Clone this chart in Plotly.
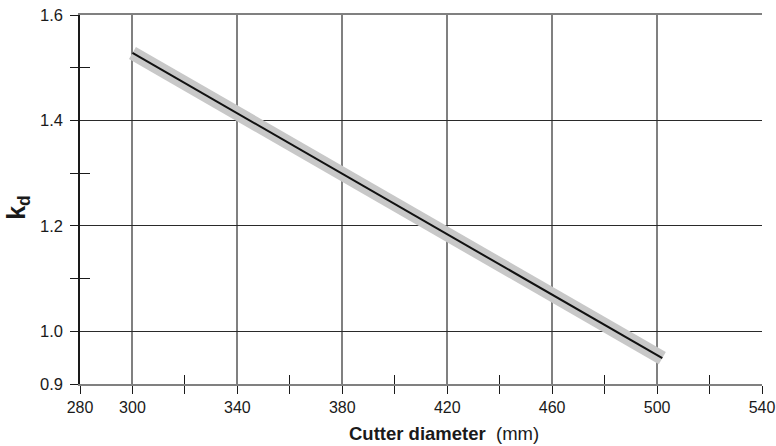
import plotly.graph_objects as go

# Cutter diameter (mm) vs. diameter factor k_d
diameter = [300, 502]
kd = [1.528, 0.949]

x_major = [280, 300, 340, 380, 420, 460, 500, 540]
x_minor = [320, 360, 400, 440, 480, 520]
y_major = [0.9, 1.0, 1.2, 1.4, 1.6]
y_major_text = ["0.9", "1.0", "1.2", "1.4", "1.6"]
y_minor = [1.1, 1.3, 1.5]

FONT = "Liberation Sans, Arial, sans-serif"
DARK = "#1a1a1a"
GREY = "#808080"

fig = go.Figure()
# broad grey band behind the line
fig.add_trace(go.Scatter(x=diameter, y=kd, mode="lines",
                         line=dict(color="#c8c8c8", width=14),
                         hoverinfo="skip", showlegend=False))
fig.add_trace(go.Scatter(x=diameter, y=kd, mode="lines",
                         line=dict(color="#111111", width=2),
                         showlegend=False))
# holder trace so the overlay axes (inner tick halves, top border) get drawn
fig.add_trace(go.Scatter(x=[None], y=[None], xaxis="x2", yaxis="y2",
                         mode="lines", hoverinfo="skip", showlegend=False))

common_x = dict(range=[280, 540], fixedrange=True, zeroline=False, automargin=False)
common_y = dict(range=[0.9, 1.6], fixedrange=True, zeroline=False, automargin=False)

fig.update_layout(
    width=776, height=446,
    margin=dict(l=80, r=14, t=15, b=62),
    plot_bgcolor="white", paper_bgcolor="white",
    font=dict(family=FONT, size=16, color=DARK),
    xaxis=dict(**common_x, tickmode="array", tickvals=x_major,
               ticktext=[str(v) for v in x_major],
               ticks="outside", ticklen=8, tickwidth=1, tickcolor=DARK,
               showgrid=True, gridcolor=GREY, gridwidth=1.5,
               minor=dict(tickmode="array", tickvals=x_minor, ticks="outside",
                          ticklen=8, tickwidth=1, tickcolor=DARK, showgrid=False),
               showline=True, linecolor=GREY, linewidth=1.5,
               tickfont=dict(size=16, color=DARK)),
    xaxis2=dict(**common_x, overlaying="x", side="bottom", anchor="y2",
                tickmode="array", tickvals=x_minor, showticklabels=False,
                ticks="inside", ticklen=9, tickwidth=1, tickcolor=DARK,
                showgrid=False, showline=True, linecolor=GREY, linewidth=1.5,
                mirror=True),
    yaxis=dict(**common_y, tickmode="array", tickvals=y_major,
               ticktext=y_major_text,
               ticks="outside", ticklen=8, tickwidth=1, tickcolor=DARK,
               ticklabelstandoff=4,
               showgrid=True, gridcolor="#2a2a2a", gridwidth=1,
               minor=dict(tickmode="array", tickvals=y_minor, ticks="outside",
                          ticklen=8, tickwidth=1, tickcolor=DARK, showgrid=False),
               showline=True, linecolor=DARK, linewidth=1.5,
               tickfont=dict(size=16.5, color=DARK)),
    yaxis2=dict(**common_y, overlaying="y", side="left", anchor="x2",
                tickmode="array", tickvals=y_minor, showticklabels=False,
                ticks="inside", ticklen=10, tickwidth=1, tickcolor=DARK,
                showgrid=False, showline=False),
    showlegend=False,
)

fig.add_annotation(text="<b>Cutter diameter</b>\u00a0\u00a0(mm)", xref="paper", yref="paper",
                   x=(444 - 80) / 682, y=-0.1355,
                   showarrow=False, xanchor="center", yanchor="middle",
                   font=dict(size=18.5, color=DARK, family=FONT))
fig.add_annotation(text="<b>k<sub>d</sub></b>", xref="paper", yref="paper",
                   x=-0.091, y=0.48, textangle=-90,
                   showarrow=False, xanchor="center", yanchor="middle",
                   font=dict(size=25, color=DARK, family=FONT))

fig.write_html("out.html")
